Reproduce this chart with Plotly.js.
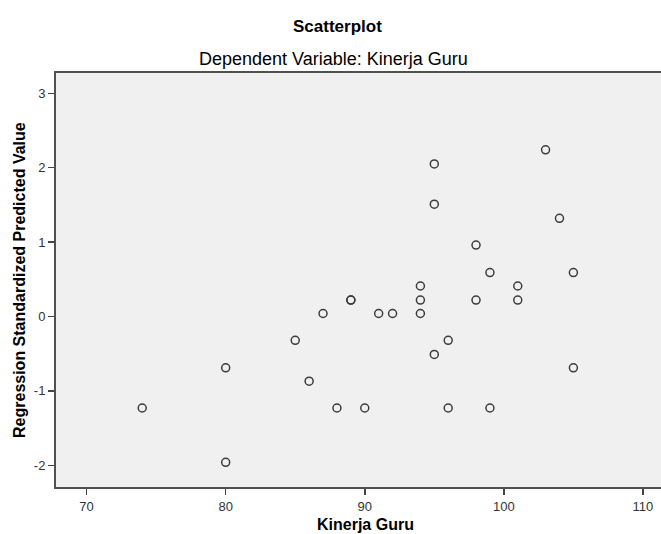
<!DOCTYPE html>
<html>
<head>
<meta charset="utf-8">
<script src="https://cdn.plot.ly/plotly-3.0.1.min.js"></script>
<style>
  html, body { margin: 0; padding: 0; background: #ffffff; }
  #chart { width: 661px; height: 534px; }
</style>
</head>
<body>
<div id="chart"></div>
<script>
// Kinerja Guru (observed) vs Regression Standardized Predicted Value
const kinerjaGuru = [103, 95, 95, 104, 98, 99, 105, 94, 101, 89, 89, 94, 98, 101, 87, 91, 92, 94, 85, 96, 95, 80, 105, 86, 74, 88, 90, 96, 99, 80];
const predictedValue = [2.24, 2.05, 1.51, 1.32, 0.96, 0.59, 0.59, 0.41, 0.41, 0.22, 0.22, 0.22, 0.22, 0.22, 0.04, 0.04, 0.04, 0.04, -0.32, -0.32, -0.51, -0.69, -0.69, -0.87, -1.23, -1.23, -1.23, -1.23, -1.23, -1.96];
const xTicks = [70, 80, 90, 100, 110];
const yTicks = [-2, -1, 0, 1, 2, 3];

const mainTitle = 'Scatterplot';
const subTitle = 'Dependent Variable: Kinerja Guru';
const xTitle = 'Kinerja Guru';
const yTitle = 'Regression Standardized Predicted Value';

const FONT = 'Liberation Sans, Arial, sans-serif';

const trace = {
  type: 'scatter',
  mode: 'markers',
  x: kinerjaGuru,
  y: predictedValue,
  marker: {
    symbol: 'circle-open',
    size: 8,
    color: '#3c3c3c',
    line: { width: 1.5, color: '#3c3c3c' }
  },
  hoverinfo: 'x+y'
};

const layout = {
  width: 661,
  height: 534,
  margin: { l: 56, r: 0, t: 73, b: 47, pad: 0 },
  paper_bgcolor: '#ffffff',
  plot_bgcolor: '#f0f0f0',
  showlegend: false,
  font: { family: FONT, color: '#333333', size: 13 },
  xaxis: {
    range: [67.8, 111.3],
    tickvals: xTicks,
    ticktext: xTicks.map(String),
    ticks: 'outside',
    ticklen: 6,
    tickwidth: 1.5,
    tickcolor: '#444444',
    showgrid: false,
    zeroline: false,
    showline: true,
    linecolor: '#505050',
    linewidth: 2,
    mirror: true,
    tickfont: { family: FONT, size: 13, color: '#333333' }
  },
  yaxis: {
    range: [-2.292, 3.273],
    tickvals: yTicks,
    ticktext: yTicks.map(String),
    ticks: 'outside',
    ticklen: 6,
    tickwidth: 1.5,
    tickcolor: '#444444',
    showgrid: false,
    zeroline: false,
    showline: true,
    linecolor: '#505050',
    linewidth: 2,
    tickfont: { family: FONT, size: 13, color: '#333333' }
  },
  annotations: [
    { text: '<b>' + mainTitle + '</b>', xref: 'paper', yref: 'paper', x: 0.466, y: 1.1124,
      xanchor: 'center', yanchor: 'middle', showarrow: false,
      font: { family: FONT, size: 17, color: '#000000' } },
    { text: subTitle, xref: 'paper', yref: 'paper', x: 0.4588, y: 1.035,
      xanchor: 'center', yanchor: 'middle', showarrow: false,
      font: { family: FONT, size: 18, color: '#000000' } },
    { text: '<b>' + xTitle + '</b>', xref: 'paper', yref: 'paper', x: 0.511, y: -0.090,
      xanchor: 'center', yanchor: 'middle', showarrow: false,
      font: { family: FONT, size: 16, color: '#000000' } },
    { text: '<b>' + yTitle + '</b>', xref: 'paper', yref: 'paper', x: -0.0612, y: 0.5,
      xanchor: 'center', yanchor: 'middle', showarrow: false, textangle: -90,
      font: { family: FONT, size: 16, color: '#000000' } }
  ]
};

Plotly.newPlot('chart', [trace], layout, { displayModeBar: false, staticPlot: true });
</script>
</body>
</html>
